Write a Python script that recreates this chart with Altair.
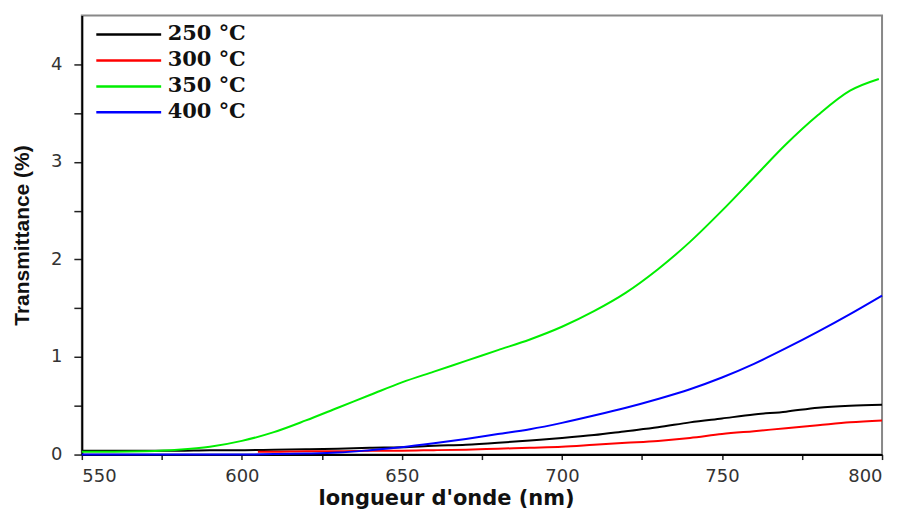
import altair as alt
import pandas as pd

# wavelengths (nm)
wl = [550, 560, 570, 580, 590, 600, 610, 620, 630, 640, 650, 660, 670,
      680, 690, 700, 710, 720, 730, 740, 750, 760, 770, 780, 790, 800]
wl_green = wl[:-1] + [799]
wl_red = [605] + wl[6:]

t250 = [0.04, 0.04, 0.04, 0.04, 0.045, 0.045, 0.05, 0.055, 0.06, 0.07, 0.075, 0.09, 0.10,
        0.12, 0.145, 0.17, 0.20, 0.24, 0.28, 0.33, 0.37, 0.41, 0.44, 0.48, 0.50, 0.51]
t300 = [0.03, 0.03, 0.035, 0.035, 0.04, 0.04, 0.045, 0.05, 0.06, 0.07, 0.08,
        0.10, 0.12, 0.14, 0.17, 0.21, 0.24, 0.27, 0.30, 0.33, 0.35]
t350 = [0.03, 0.03, 0.035, 0.05, 0.08, 0.14, 0.23, 0.35, 0.48, 0.61, 0.74, 0.85, 0.96,
        1.07, 1.18, 1.31, 1.47, 1.66, 1.90, 2.18, 2.50, 2.84, 3.18, 3.48, 3.73, 3.85]
t400 = [0.0, 0.0, 0.0, 0.0, 0.0, 0.0, 0.005, 0.01, 0.02, 0.045, 0.075, 0.115, 0.16,
        0.21, 0.26, 0.325, 0.40, 0.48, 0.57, 0.67, 0.79, 0.93, 1.09, 1.26, 1.44, 1.63]

series = ["250 °C", "300 °C", "350 °C", "400 °C"]
colors = ["#000000", "#ff0000", "#00ee00", "#0000ff"]

rows = []
for name, xs, ys in [(series[0], wl, t250), (series[1], wl_red, t300),
                     (series[2], wl_green, t350), (series[3], wl, t400)]:
    for i, (x, y) in enumerate(zip(xs, ys)):
        rows.append({"wl": x, "T": y, "serie": name, "ord": i})
df = pd.DataFrame(rows)

x_ticks = list(range(550, 801, 25))
y_ticks = [i * 0.5 for i in range(0, 9)]

chart = alt.Chart(df).mark_line(strokeWidth=2, interpolate="monotone").encode(
    x=alt.X("wl:Q",
            scale=alt.Scale(domain=[550, 800], nice=False, zero=False),
            axis=alt.Axis(title="longueur d'onde (nm)", values=x_ticks,
                          labelExpr="datum.value % 50 == 0 ? datum.label : ''",
                          grid=False, tickSize=5, tickWidth=1.5, tickColor="#222",
                          domainColor="#000", domainWidth=2,
                          labelFont="DejaVu Sans", labelFontSize=18, labelColor="#333",
                          labelPadding=8,
                          titleFont="DejaVu Sans", titleFontSize=21, titleFontWeight="bold",
                          titleColor="#111", titleX=365, titleY=50,
                          titleBaseline="alphabetic")),
    y=alt.Y("T:Q",
            scale=alt.Scale(domain=[0, 4.5], nice=False),
            axis=alt.Axis(title="Transmittance (%)", values=y_ticks,
                          labelExpr="datum.value % 1 == 0 ? format(datum.value, 'd') : ''",
                          grid=False, tickSize=8, tickWidth=1.5, tickColor="#222",
                          domainColor="#000", domainWidth=2,
                          labelFont="DejaVu Sans", labelFontSize=18, labelColor="#333",
                          labelPadding=12,
                          titleFont="Liberation Sans", titleFontSize=21, titleFontWeight="bold",
                          titleColor="#111", titleX=-59, titleBaseline="middle")),
    color=alt.Color("serie:N", scale=alt.Scale(domain=series, range=colors),
                    legend=alt.Legend(title=None, orient="none", legendX=13, legendY=6,
                                      symbolType="stroke", symbolSize=4225,
                                      symbolStrokeWidth=2.5, padding=0, rowPadding=0,
                                      clipHeight=26,
                                      labelFont="DejaVu Serif", labelFontWeight="bold",
                                      labelFontSize=21, labelColor="#111", labelOffset=5)),
    order="ord:Q",
).properties(
    width=802, height=440,
    autosize=alt.AutoSizeParams(type="none"),
    padding={"left": 74, "top": 7, "right": 15, "bottom": 54},
).configure_view(stroke="#888", strokeWidth=2)

chart.save("out.html", embed_options={"renderer": "svg", "actions": False})
